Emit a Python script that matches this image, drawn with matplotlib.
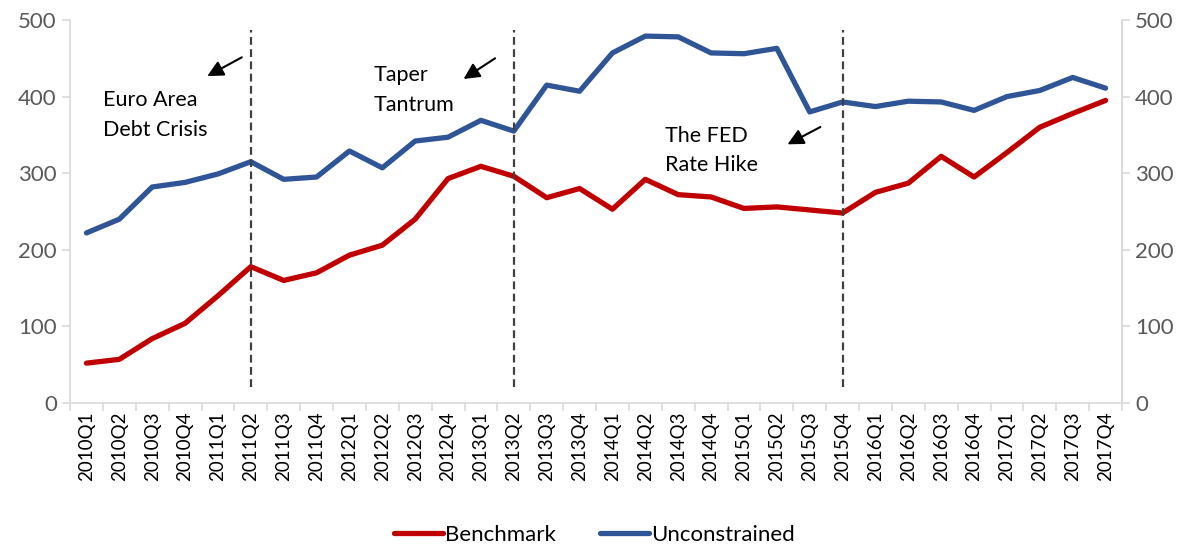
import numpy as np
import matplotlib.pyplot as plt

plt.rcParams['font.family'] = ['Lato', 'DejaVu Sans']

# quarters 2010Q1 .. 2017Q4
quarters = [f"{y}Q{q}" for y in range(2010, 2018) for q in range(1, 5)]

benchmark = [52, 57, 84, 104, 140, 178, 160, 170, 193, 206, 240, 293,
             309, 296, 268, 280, 253, 292, 272, 269, 254, 256, 252, 248,
             275, 287, 322, 295, 327, 360, 378, 395]
unconstrained = [222, 240, 282, 288, 299, 315, 292, 295, 329, 307, 342, 347,
                 369, 355, 415, 407, 457, 479, 478, 457, 456, 463, 380, 393,
                 387, 394, 393, 382, 400, 408, 425, 411]

events = ["2011Q2", "2013Q2", "2015Q4"]
event_labels = ["Euro Area\nDebt Crisis", "Taper\nTantrum", "The FED\nRate Hike"]

red = "#C00000"
blue = "#2F5597"
grey = "#D9D9D9"
tick_col = "#595959"

fig = plt.figure(figsize=(11.89, 5.47), dpi=100)
ax = fig.add_axes([70 / 1189, 1 - 403 / 547, (1122 - 70) / 1189, 383 / 547])
x = np.arange(len(quarters))

ax.plot(x, benchmark, color=red, lw=3.8, solid_capstyle='round', label="Benchmark")
ax.plot(x, unconstrained, color=blue, lw=3.8, solid_capstyle='round', label="Unconstrained")

for ev in events:
    xi = quarters.index(ev)
    ax.vlines(xi, 21, 487, colors="#404040", linestyles=(0, (3.5, 2)), lw=1.6)

# text boxes and arrows (data coords)
arrow = dict(arrowstyle="-|>", color="black", lw=1.5, mutation_scale=24)
ax.text(0.5, 408, event_labels[0], fontsize=15.5, va='top', ha='left', linespacing=1.6)
ax.annotate("", xy=(3.6, 425), xytext=(4.8, 453), arrowprops=arrow)
ax.text(8.75, 441, event_labels[1], fontsize=15.5, va='top', ha='left', linespacing=1.6)
ax.annotate("", xy=(11.4, 421), xytext=(12.5, 452), arrowprops=arrow)
ax.text(17.6, 362, event_labels[2], fontsize=15.5, va='top', ha='left', linespacing=1.6)
ax.annotate("", xy=(21.25, 336), xytext=(22.4, 362), arrowprops=arrow)

ax.set_xlim(-0.5, len(quarters) - 0.5)
ax.set_ylim(0, 500)
ax.set_yticks(range(0, 501, 100))
ax.set_xticks(x)
ax.set_xticklabels(quarters, rotation=90, fontsize=13.5)
ax.set_xticks(np.arange(-0.5, len(quarters), 1), minor=True)
ax.tick_params(axis='x', which='major', length=0, pad=6, colors='black')
ax.tick_params(axis='x', which='minor', length=6, color=grey, width=1.2)
ax.tick_params(axis='y', length=6, color=grey, labelsize=16, labelcolor=tick_col, width=1.2)

ax.spines['top'].set_visible(False)
for s in ['left', 'bottom', 'right']:
    ax.spines[s].set_color(grey)
    ax.spines[s].set_linewidth(1.2)

ax2 = ax.twinx()
ax2.set_ylim(0, 500)
ax2.set_yticks(range(0, 501, 100))
ax2.tick_params(axis='y', length=6, color=grey, labelsize=16, labelcolor=tick_col, width=1.2)
for s in ['top', 'left', 'bottom']:
    ax2.spines[s].set_visible(False)
ax2.spines['right'].set_color(grey)
ax2.spines['right'].set_linewidth(1.2)

fig.legend(loc='center', bbox_to_anchor=(0.5, 1 - 535 / 547), ncol=2, frameon=False,
           fontsize=16, handlelength=2.2, handletextpad=0.1, columnspacing=2.0)

fig.savefig("out.png", dpi=100)
